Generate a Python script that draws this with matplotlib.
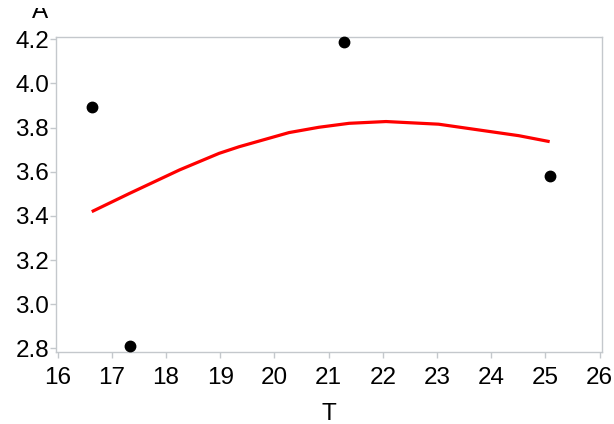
import matplotlib
matplotlib.use("Agg")
import matplotlib.pyplot as plt
from matplotlib.transforms import Bbox, TransformedBbox

# Observed points
pt_T = [16.63, 17.33, 21.29, 25.09]
pt_A = [3.892, 2.810, 4.189, 3.581]

# Fitted curve
fit_T = [16.63, 17.33, 18.25, 18.98, 19.35, 20.27, 20.82, 21.38, 22.06, 22.30, 23.03, 23.77, 24.51, 25.08]
fit_A = [3.419, 3.502, 3.608, 3.683, 3.713, 3.777, 3.801, 3.819, 3.827, 3.824, 3.815, 3.789, 3.763, 3.736]

x_ticks = list(range(16, 27))
y_ticks = [2.8, 3.0, 3.2, 3.4, 3.6, 3.8, 4.0, 4.2]

plt.rcParams['font.family'] = ['Liberation Sans', 'DejaVu Sans']

W, H = 614, 424
fig = plt.figure(figsize=(W/100, H/100), dpi=100)
ax = fig.add_axes([56/W, 72.3/H, (601.7-56)/W, (351.7-36.5)/H])

ax.plot(fit_T, fit_A, color='#ff0000', lw=2.3, solid_capstyle='butt', zorder=2)
ax.plot(pt_T, pt_A, 'o', color='black', ms=7.5, zorder=3, clip_on=False)

ax.set_xlim(15.97, 26.04)
ax.set_ylim(2.785, 4.212)
ax.set_xticks(x_ticks)
ax.set_yticks(y_ticks)
ax.set_yticklabels([f"{v:.1f}" for v in y_ticks])

spine_c = '#c4c8cc'
for s in ax.spines.values():
    s.set_color(spine_c)
    s.set_linewidth(1.0)
ax.tick_params(axis='both', colors=spine_c, labelcolor='black', labelsize=17.5,
               length=4, width=1.0)
ax.tick_params(axis='y', pad=1)
ax.tick_params(axis='x', pad=7)

ta = fig.text(40/W, (H-18)/H, 'A', fontsize=17.5, ha='center', va='baseline')
ta.set_clip_box(TransformedBbox(Bbox([[0, 0], [1, (H-8)/H]]), fig.transFigure))
ta.set_clip_on(True)
fig.text(329.3/W, 4/H, 'T', fontsize=17.5, ha='center', va='baseline')

fig.savefig('out.png', dpi=100)
